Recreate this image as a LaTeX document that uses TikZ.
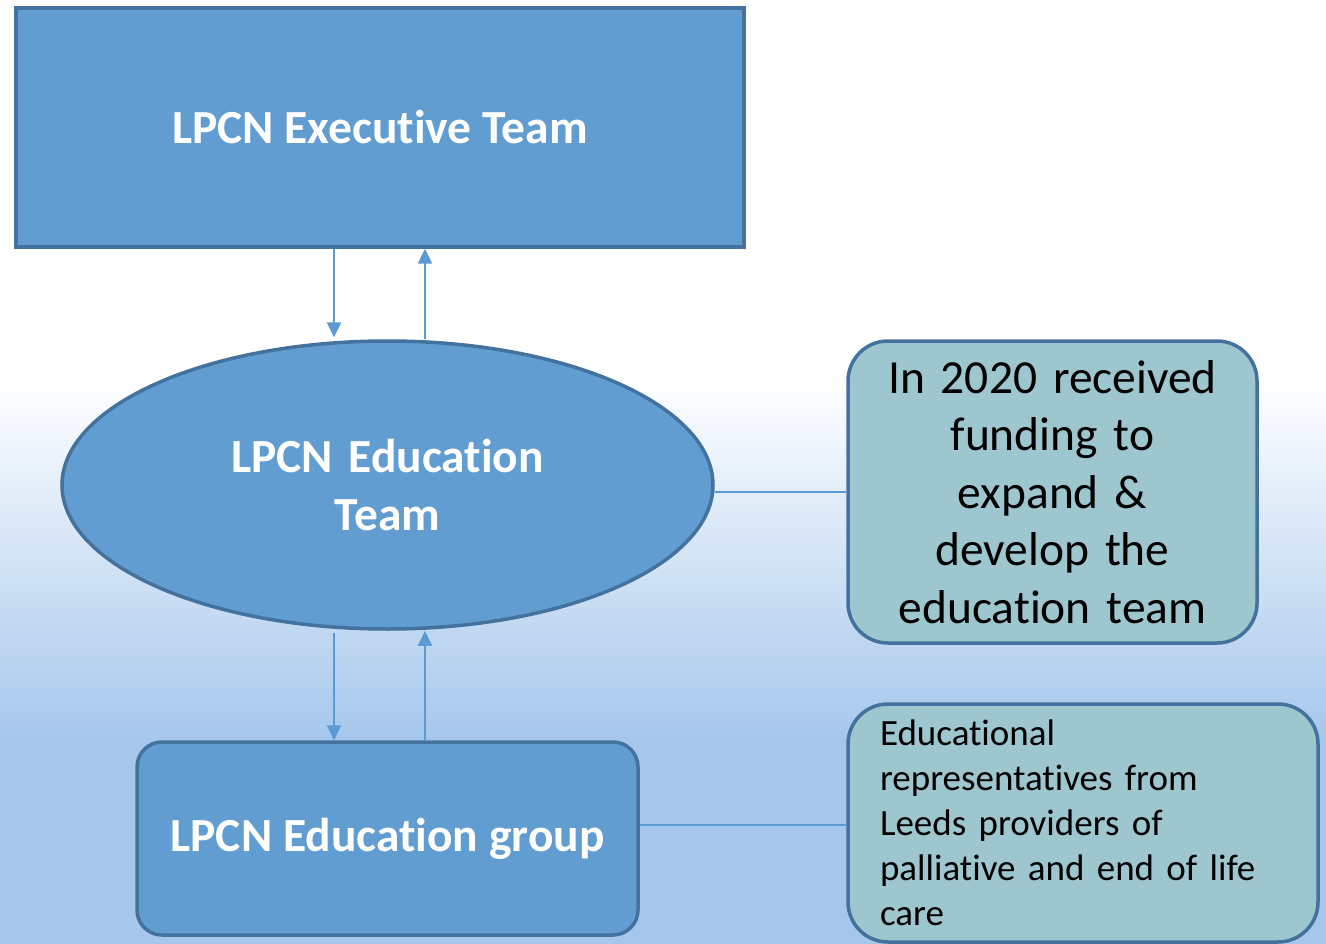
\documentclass[tikz,border=0pt]{standalone}
\usepackage{fontspec}
\setmainfont{Carlito}[Ligatures=NoCommon]
\usetikzlibrary{shapes.geometric,arrows.meta}
\definecolor{mainfill}{RGB}{98,157,209}
\definecolor{mainborder}{RGB}{68,114,158}
\definecolor{tealfill}{RGB}{157,198,206}
\definecolor{arrowcol}{RGB}{91,155,213}
\definecolor{bgblue}{RGB}{166,199,236}
\tikzset{
  bluebox/.style={draw=mainborder, line width=3.5pt, fill=mainfill, text=white, font=\fontsize{47.5}{58}\selectfont\bfseries, align=center, inner sep=0pt},
  tealbox/.style={draw=mainborder, line width=3.5pt, fill=tealfill, text=black, rounded corners=40pt, inner sep=0pt},
  arr/.style={draw=arrowcol, line width=2.5pt, -{Triangle[width=14pt,length=15pt]}},
  link/.style={draw=arrowcol, line width=2pt}
}
\begin{document}
\begin{tikzpicture}[x=1pt,y=-1pt]
\useasboundingbox (0,0) rectangle (1326,944);
\fill[white] (0,0) rectangle (1326,380);
\shade[top color=white, bottom color=bgblue] (0,380) rectangle (1326,740);
\fill[bgblue] (0,739) rectangle (1326,944);

\node[bluebox, rectangle, minimum width=728pt, minimum height=239pt] (exec) at (380,127.5) {LPCN Executive Team};
\node[bluebox, ellipse, minimum width=651pt, minimum height=288pt, text width=360pt] (edu) at (387.5,485) {LPCN Education\\Team};
\node[bluebox, rectangle, rounded corners=25pt, minimum width=501pt, minimum height=193pt] (grp) at (387.5,838.5) {LPCN Education group};

\node[tealbox, minimum width=409pt, minimum height=302pt, align=center, font=\fontsize{47.5}{57.5}\selectfont, text width=380pt] (fund) at (1052.5,492) {In 2020 received\\funding to\\expand \&\\develop the\\education team};
\node[tealbox, minimum width=470pt, minimum height=238pt, align=left, font=\fontsize{37}{45}\selectfont, text width=406pt, inner xsep=32pt, inner ysep=0pt] (reps) at (1083,823) {Educational\\representatives from\\Leeds providers of\\palliative and end of life\\care};

\coordinate (xL) at (334,0);
\coordinate (xR) at (425,0);
\draw[arr] (exec.south -| xL) -- ([yshift=2pt]edu.north -| xL);
\draw[arr] (edu.north -| xR) -- (exec.south -| xR);
\draw[arr, line width=2pt] ([yshift=-2pt]edu.south -| xL) -- (grp.north -| xL);
\draw[arr, line width=2pt] (grp.north -| xR) -- (edu.south -| xR);

\coordinate (y1) at (0,492);
\coordinate (y2) at (0,825);
\draw[link] (edu.east |- y1) -- (fund.west |- y1);
\draw[link] (grp.east |- y2) -- (reps.west |- y2);
\end{tikzpicture}
\end{document}
